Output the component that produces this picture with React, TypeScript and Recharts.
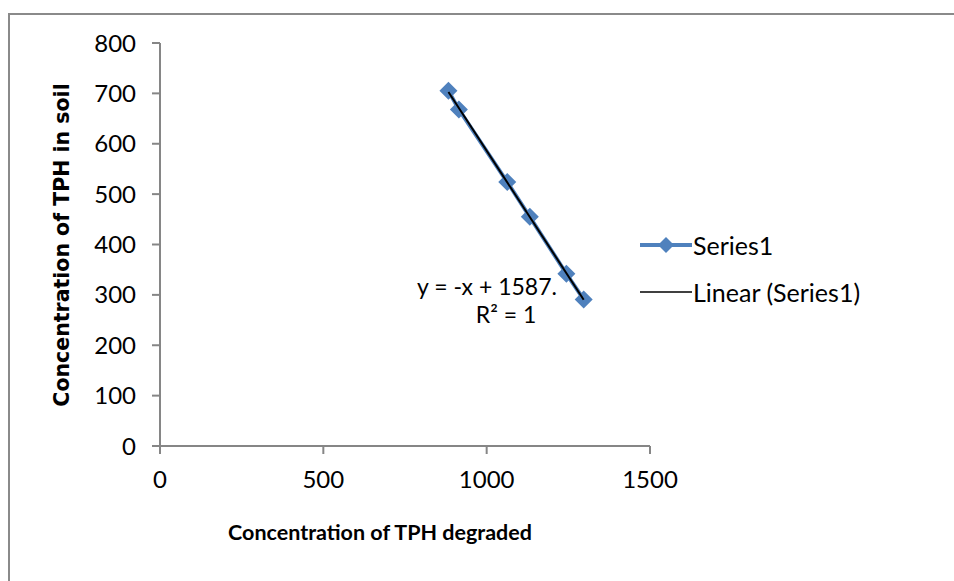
import React from 'react';
import { ScatterChart, Scatter, XAxis, YAxis, Label, Legend } from 'recharts';

// ---- data ----
const tphDegraded = [883, 915, 1063, 1132, 1244, 1297];
const tphInSoil = [705, 668, 524, 455, 342, 291];
const xTicks = [0, 500, 1000, 1500];
const yTicks = [0, 100, 200, 300, 400, 500, 600, 700, 800];
const seriesName = 'Series1';
const trendName = 'Linear (Series1)';
const equationText = 'y = -x + 1587.';
const r2Text = 'R² = 1';
const xTitle = 'Concentration of TPH degraded';
const yTitle = 'Concentration of TPH in soil';

const seriesData = tphDegraded.map((x, i) => ({ x, y: tphInSoil[i] }));

// least-squares linear trendline (as Excel does), spanning the data's x range
const n = tphDegraded.length;
const mx = tphDegraded.reduce((a, b) => a + b, 0) / n;
const my = tphInSoil.reduce((a, b) => a + b, 0) / n;
let sxy = 0;
let sxx = 0;
for (let i = 0; i < n; i++) {
  sxy += (tphDegraded[i] - mx) * (tphInSoil[i] - my);
  sxx += (tphDegraded[i] - mx) ** 2;
}
const slope = sxy / sxx;
const intercept = my - slope * mx;
const xMin = Math.min(...tphDegraded);
const xMax = Math.max(...tphDegraded);
const trendData = [
  { x: xMin, y: slope * xMin + intercept },
  { x: xMax, y: slope * xMax + intercept },
];

const BLUE = '#4F81BD';
const AXIS = '#868686';
const FONT = 'Lato, "Liberation Sans", sans-serif';
const TICK_FS = 24;
const LEGEND_FS = 25;

const Diamond = (props: any) => {
  const { cx, cy } = props;
  const r = 9;
  return <path d={`M${cx},${cy - r}L${cx + r},${cy}L${cx},${cy + r}L${cx - r},${cy}Z`} fill={BLUE} />;
};
const NoShape = () => <g />;

const LegendContent = () => (
  <svg width={280} height={80} style={{ overflow: 'visible' }}>
    <line x1={4} y1={16} x2={56} y2={16} stroke={BLUE} strokeWidth={4} />
    <path d="M30,8L38,16L30,24L22,16Z" fill={BLUE} />
    <text x={57} y={16} dominantBaseline="central" fontFamily={FONT} fontSize={LEGEND_FS} fill="#000">
      {seriesName}
    </text>
    <line x1={4} y1={63} x2={56} y2={63} stroke="#000" strokeWidth={1.5} />
    <text x={57} y={63} dominantBaseline="central" fontFamily={FONT} fontSize={LEGEND_FS} fill="#000">
      {trendName}
    </text>
  </svg>
);

export default function App() {
  return (
    <div style={{ position: 'absolute', left: 0, top: 0, width: 954, height: 581, overflow: 'hidden', background: '#fff' }}>
      <div
        style={{
          position: 'absolute',
          left: 8,
          top: 13,
          width: 1000,
          height: 700,
          border: '2px solid #8a8a8a',
          boxSizing: 'border-box',
        }}
      />
      <ScatterChart width={954} height={581} margin={{ top: 43, right: 304, bottom: 0, left: 0 }} style={{ position: 'absolute', left: 0, top: 0 }}>
        <XAxis
          type="number"
          dataKey="x"
          domain={[0, 1500]}
          ticks={xTicks}
          height={135}
          axisLine={{ stroke: AXIS, strokeWidth: 2 }}
          tickLine={{ stroke: AXIS, strokeWidth: 2 }}
          tickSize={8}
          tickMargin={17}
          tick={{ fill: '#000', fontSize: TICK_FS, fontFamily: FONT }}
        >
          <Label
            content={() => (
              <text x={380} y={540} textAnchor="middle" fontFamily={FONT} fontWeight="bold" fontSize={21.5} fill="#000">
                {xTitle}
              </text>
            )}
          />
        </XAxis>
        <YAxis
          type="number"
          dataKey="y"
          domain={[0, 800]}
          ticks={yTicks}
          width={160}
          axisLine={{ stroke: AXIS, strokeWidth: 2 }}
          tickLine={{ stroke: AXIS, strokeWidth: 2 }}
          tickSize={8}
          tickMargin={16}
          tick={{ fill: '#000', fontSize: TICK_FS, fontFamily: FONT }}
        >
          <Label
            content={() => {
              const cy = 245;
              return (
                <text
                  x={62}
                  y={cy}
                  transform={`rotate(-90 62 ${cy})`}
                  textAnchor="middle"
                  dominantBaseline="central"
                  fontFamily='"DejaVu Sans", Verdana, sans-serif'
                  fontWeight="bold"
                  fontSize={20.5}
                  fill="#000"
                >
                  {yTitle}
                </text>
              );
            }}
          />
        </YAxis>
        <Scatter
          name={seriesName}
          data={seriesData}
          line={{ stroke: BLUE, strokeWidth: 4 }}
          shape={Diamond}
          isAnimationActive={false}
        />
        <Scatter
          name={trendName}
          data={trendData}
          line={{ stroke: '#000', strokeWidth: 2 }}
          shape={NoShape}
          isAnimationActive={false}
        />
        <Legend
          layout="vertical"
          align="center"
          verticalAlign="middle"
          content={LegendContent}
          wrapperStyle={{ position: 'absolute', left: 636, top: 229, width: 280, height: 80 }}
        />
      </ScatterChart>
      <div
        style={{
          position: 'absolute',
          left: 387,
          top: 270,
          width: 200,
          textAlign: 'center',
          fontFamily: FONT,
          fontSize: 23,
          lineHeight: '32px',
          color: '#000',
          pointerEvents: 'none',
        }}
      >
        {equationText}
      </div>
      <div
        style={{
          position: 'absolute',
          left: 406,
          top: 298,
          width: 200,
          textAlign: 'center',
          fontFamily: FONT,
          fontSize: 23,
          lineHeight: '32px',
          color: '#000',
          pointerEvents: 'none',
        }}
      >
        {r2Text}
      </div>
    </div>
  );
}
